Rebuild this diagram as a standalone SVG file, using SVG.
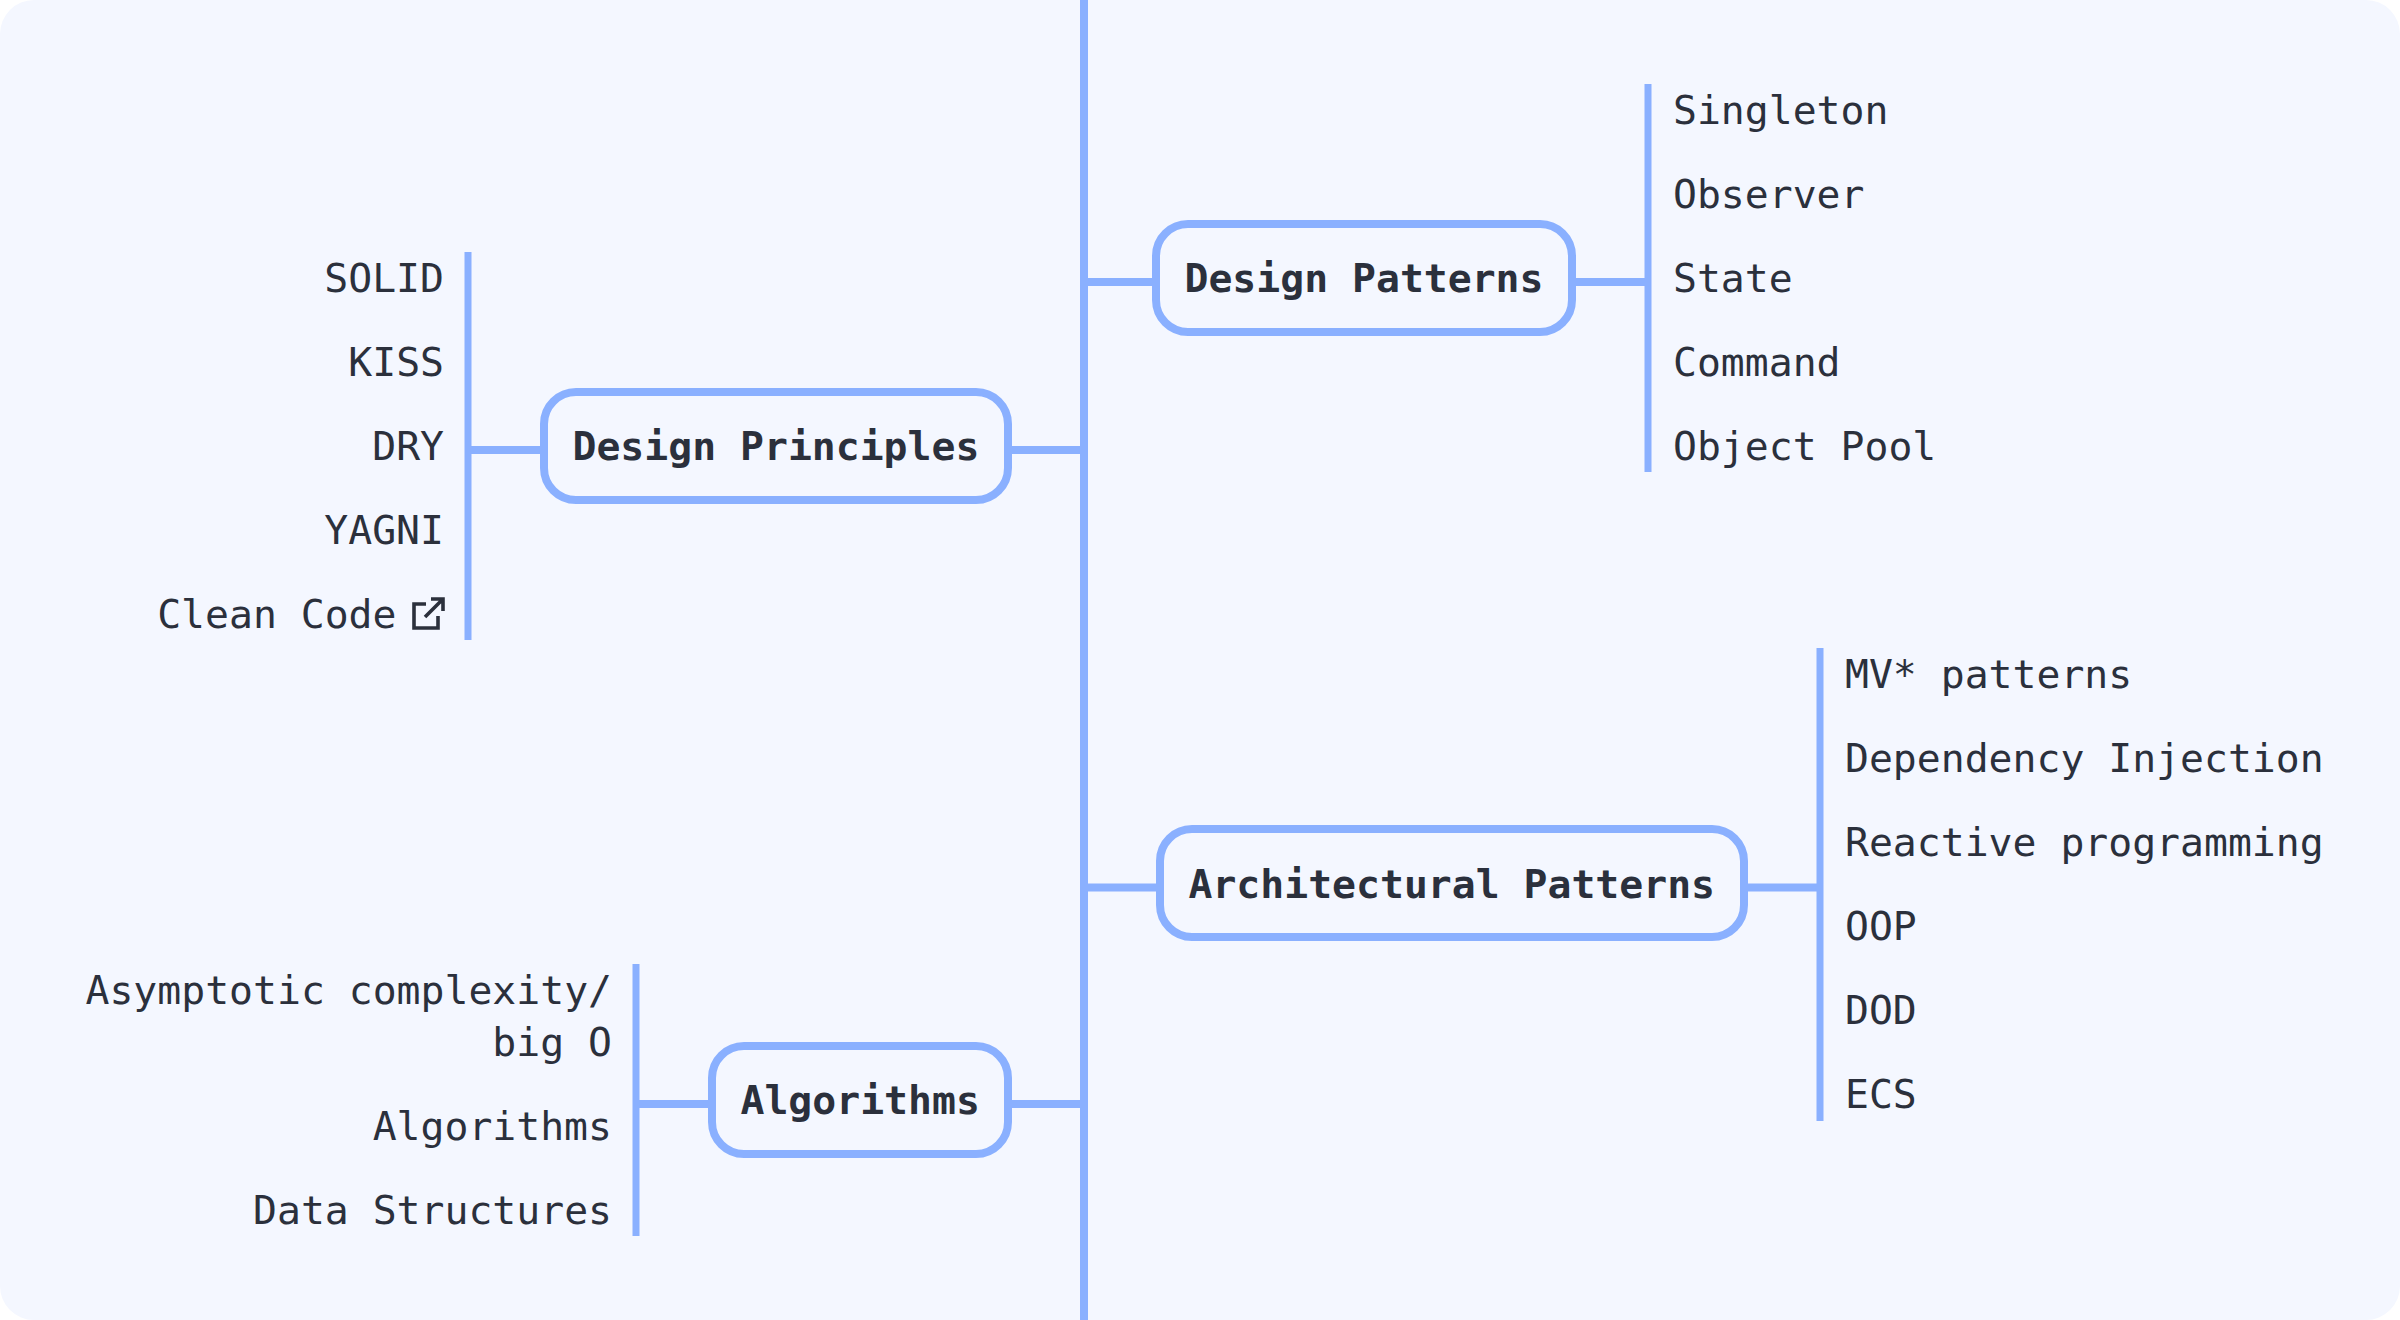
<svg xmlns="http://www.w3.org/2000/svg" width="2400" height="1320" viewBox="0 0 2400 1320">
<style>
text{font-family:"DejaVu Sans Mono","Liberation Mono",monospace;font-size:39.75px;fill:#2b303c}
.t{font-weight:700}
.e{text-anchor:end}
.b{fill:#f4f7ff;stroke:#8ab0ff;stroke-width:8}
.h{stroke:#8ab0ff;stroke-width:8;fill:none}
.v{stroke:#8ab0ff;stroke-width:7;fill:none}
</style>
<rect width="2400" height="1320" fill="#fff"/>
<rect id="background" width="2400" height="1320" rx="34" fill="#f4f7ff"/>
<g id="connectors">
<path class="h" d="M1084 0V1320M1084 282H1153M1576 282H1648M1012 450H1084M468 450H541M1084 887.500H1157M1748 887.500H1820M636 1104H709M1012 1104H1084"/>
<path class="v" d="M468 252V640M1648 84V472M1820 648V1121M636 964V1236"/>
</g>
<g id="design-principles">
<rect class="b" x="544" y="392" width="464" height="108" rx="32"/>
<text class="t" x="572.500" y="460">Design Principles</text>
<text class="e" x="444" y="292">SOLID</text>
<text class="e" x="444" y="376">KISS</text>
<text class="e" x="444" y="460">DRY</text>
<text class="e" x="444" y="544">YAGNI</text>
<text class="e" x="396.500" y="628">Clean Code</text>
<path d="M426 604H414V628H438V616M425 617L442 600M431 599H443V611" fill="none" stroke="#2b303c" stroke-width="3.600"/>
</g>
<g id="design-patterns">
<rect class="b" x="1156" y="224" width="416" height="108" rx="32"/>
<text class="t" x="1184.500" y="292">Design Patterns</text>
<text x="1673" y="124">Singleton</text>
<text x="1673" y="208">Observer</text>
<text x="1673" y="292">State</text>
<text x="1673" y="376">Command</text>
<text x="1673" y="460">Object Pool</text>
</g>
<g id="architectural-patterns">
<rect class="b" x="1160" y="829" width="584" height="108" rx="32"/>
<text class="t" x="1188.500" y="898">Architectural Patterns</text>
<text x="1845" y="688">MV* patterns</text>
<text x="1845" y="772">Dependency Injection</text>
<text x="1845" y="856">Reactive programming</text>
<text x="1845" y="940">OOP</text>
<text x="1845" y="1024">DOD</text>
<text x="1845" y="1108">ECS</text>
</g>
<g id="algorithms">
<rect class="b" x="712" y="1046" width="296" height="108" rx="32"/>
<text class="t" x="740.500" y="1114">Algorithms</text>
<text class="e" x="612" y="1004">Asymptotic complexity/</text>
<text class="e" x="612" y="1056">big O</text>
<text class="e" x="612" y="1140">Algorithms</text>
<text class="e" x="612" y="1224">Data Structures</text>
</g>
</svg>
